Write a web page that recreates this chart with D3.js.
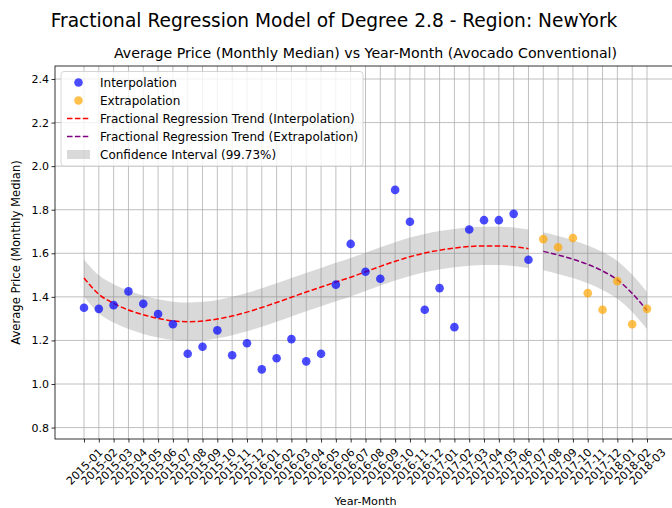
<!DOCTYPE html>
<html>
<head>
<meta charset="utf-8">
<script src="https://cdn.jsdelivr.net/npm/d3@7"></script>
<style>
  body { margin: 0; background: #fff; }
  svg { font-family: "DejaVu Sans", sans-serif; display: block; }
</style>
</head>
<body>
<svg id="chart" width="672" height="508"></svg>
<script>
const months = [
  "2015-01","2015-02","2015-03","2015-04","2015-05","2015-06","2015-07","2015-08","2015-09","2015-10","2015-11","2015-12",
  "2016-01","2016-02","2016-03","2016-04","2016-05","2016-06","2016-07","2016-08","2016-09","2016-10","2016-11","2016-12",
  "2017-01","2017-02","2017-03","2017-04","2017-05","2017-06","2017-07","2017-08","2017-09","2017-10","2017-11","2017-12",
  "2018-01","2018-02","2018-03"
];

// observed monthly medians (first 31 months = interpolation, last 8 = extrapolation)
const interpPrices = [1.350,1.345,1.362,1.425,1.368,1.321,1.274,1.139,1.171,1.246,1.132,1.187,
  1.067,1.118,1.206,1.104,1.139,1.456,1.643,1.515,1.483,1.891,1.745,1.341,
  1.440,1.261,1.709,1.752,1.752,1.781,1.570];
const extrapPrices = [1.665,1.628,1.670,1.417,1.341,1.472,1.274,1.345];

// fitted trend + confidence band
const trendInterp = [1.487,1.412,1.370,1.340,1.318,1.301,1.290,1.286,1.289,1.298,1.312,1.330,
  1.351,1.374,1.398,1.422,1.445,1.468,1.490,1.515,1.540,1.563,1.584,1.601,
  1.614,1.624,1.631,1.634,1.634,1.630,1.621];
const ciInterpHigh = [1.572,1.499,1.458,1.428,1.406,1.389,1.378,1.374,1.377,1.386,1.400,1.418,
  1.439,1.462,1.486,1.510,1.533,1.556,1.578,1.603,1.628,1.651,1.672,1.689,
  1.702,1.712,1.719,1.722,1.722,1.718,1.709];
const ciInterpLow = [1.402,1.325,1.282,1.252,1.230,1.213,1.202,1.198,1.201,1.210,1.224,1.242,
  1.263,1.286,1.310,1.334,1.357,1.380,1.402,1.427,1.452,1.475,1.496,1.513,
  1.526,1.536,1.543,1.546,1.546,1.542,1.533];
const trendExtrap = [1.609,1.592,1.573,1.549,1.519,1.478,1.416,1.338];
const ciExtrapHigh = [1.696,1.679,1.660,1.636,1.606,1.565,1.501,1.422];
const ciExtrapLow = [1.522,1.505,1.486,1.462,1.432,1.391,1.331,1.252];

const yTicks = [0.8, 1.0, 1.2, 1.4, 1.6, 1.8, 2.0, 2.2, 2.4];

const nInterp = interpPrices.length;
const interpRows = interpPrices.map((v, i) => ({ i, v, t: trendInterp[i], lo: ciInterpLow[i], hi: ciInterpHigh[i] }));
const extrapRows = extrapPrices.map((v, k) => ({ i: nInterp + k, v, t: trendExtrap[k], lo: ciExtrapLow[k], hi: ciExtrapHigh[k] }));

const svg = d3.select("#chart");
const plot = { left: 55, right: 676, top: 66, bottom: 439 };

const x = d3.scaleLinear().domain([0, months.length - 1]).range([84, 647]);
const y = d3.scaleLinear().domain([1.0, 2.4]).range([384, 79]);

// titles
svg.append("text").attr("x", 334).attr("y", 27).attr("text-anchor", "middle")
  .attr("font-size", 18.6).text("Fractional Regression Model of Degree 2.8 - Region: NewYork");
svg.append("text").attr("x", (plot.left + plot.right) / 2).attr("y", 58).attr("text-anchor", "middle")
  .attr("font-size", 14.2).text("Average Price (Monthly Median) vs Year-Month (Avocado Conventional)");

svg.append("defs").append("clipPath").attr("id", "clip")
  .append("rect").attr("x", plot.left).attr("y", plot.top)
  .attr("width", plot.right - plot.left).attr("height", plot.bottom - plot.top);

const g = svg.append("g").attr("clip-path", "url(#clip)");

// grid
const grid = g.append("g").attr("class", "grid");
months.forEach((m, i) => {
  grid.append("line").attr("x1", x(i)).attr("x2", x(i)).attr("y1", plot.top).attr("y2", plot.bottom)
    .attr("stroke", "#b0b0b0").attr("stroke-width", 0.8);
});
yTicks.forEach(v => {
  grid.append("line").attr("x1", plot.left).attr("x2", plot.right).attr("y1", y(v)).attr("y2", y(v))
    .attr("stroke", "#b0b0b0").attr("stroke-width", 0.8);
});

// confidence bands
const band = d3.area().x(d => x(d.i)).y0(d => y(d.lo)).y1(d => y(d.hi)).curve(d3.curveMonotoneX);
[interpRows, extrapRows].forEach(rows => {
  g.append("path").datum(rows).attr("d", band).attr("fill", "gray").attr("fill-opacity", 0.3);
});

// trend lines
const line = d3.line().x(d => x(d.i)).y(d => y(d.t)).curve(d3.curveMonotoneX);
g.append("path").datum(interpRows).attr("d", line).attr("fill", "none")
  .attr("stroke", "red").attr("stroke-width", 1.5).attr("stroke-dasharray", "5.5,2.4");
g.append("path").datum(extrapRows).attr("d", line).attr("fill", "none")
  .attr("stroke", "purple").attr("stroke-width", 1.5).attr("stroke-dasharray", "5.5,2.4");

// points
g.selectAll("circle.interp").data(interpRows).enter().append("circle").attr("class", "interp")
  .attr("cx", d => x(d.i)).attr("cy", d => y(d.v)).attr("r", 4.3)
  .attr("fill", "blue").attr("fill-opacity", 0.7);
g.selectAll("circle.extrap").data(extrapRows).enter().append("circle").attr("class", "extrap")
  .attr("cx", d => x(d.i)).attr("cy", d => y(d.v)).attr("r", 4.3)
  .attr("fill", "orange").attr("fill-opacity", 0.7);

// axes
const yAxis = svg.append("g").attr("transform", `translate(${plot.left},0)`)
  .call(d3.axisLeft(y).tickValues(yTicks).tickFormat(d3.format(".1f")).tickSize(3.5).tickSizeOuter(0));
const xAxis = svg.append("g").attr("transform", `translate(0,${plot.bottom})`)
  .call(d3.axisBottom(x).tickValues(d3.range(months.length)).tickFormat(i => months[i]).tickSize(3.5).tickSizeOuter(0));

[xAxis, yAxis].forEach(a => {
  a.select(".domain").remove();
  a.selectAll("text").attr("font-family", "DejaVu Sans").attr("font-size", 11).attr("fill", "#000");
  a.selectAll("line").attr("stroke", "#000").attr("stroke-width", 0.8);
});
yAxis.selectAll("text").attr("x", -6);
// rotated labels centred on the tick (bbox centre under tick)
xAxis.selectAll("text")
  .attr("text-anchor", "middle")
  .attr("y", 0).attr("dy", "0.35em")
  .attr("transform", "translate(0,27.5) rotate(-45)");

// spines
svg.append("rect").attr("x", plot.left).attr("y", plot.top)
  .attr("width", plot.right - plot.left).attr("height", plot.bottom - plot.top)
  .attr("fill", "none").attr("stroke", "#000").attr("stroke-width", 0.8);

// axis labels
svg.append("text").attr("x", (plot.left + plot.right) / 2).attr("y", 505).attr("text-anchor", "middle")
  .attr("font-size", 11.2).text("Year-Month");
svg.append("text").attr("transform", `translate(20,${(plot.top + plot.bottom) / 2}) rotate(-90)`)
  .attr("text-anchor", "middle").attr("font-size", 11.6).text("Average Price (Monthly Median)");

// legend
const legend = svg.append("g");
legend.append("rect").attr("x", 61).attr("y", 71.5).attr("width", 302).attr("height", 94.5).attr("rx", 3)
  .attr("fill", "#fff").attr("fill-opacity", 0.8).attr("stroke", "#cccccc").attr("stroke-width", 0.8);
const legendItems = [
  { label: "Interpolation", kind: "dot", color: "blue" },
  { label: "Extrapolation", kind: "dot", color: "orange" },
  { label: "Fractional Regression Trend (Interpolation)", kind: "line", color: "red" },
  { label: "Fractional Regression Trend (Extrapolation)", kind: "line", color: "purple" },
  { label: "Confidence Interval (99.73%)", kind: "patch", color: "gray" }
];
legendItems.forEach((d, k) => {
  const yy = 82.5 + k * 18;
  if (d.kind === "dot") {
    legend.append("circle").attr("cx", 78.5).attr("cy", yy).attr("r", 4.3)
      .attr("fill", d.color).attr("fill-opacity", 0.7);
  } else if (d.kind === "line") {
    legend.append("line").attr("x1", 67).attr("x2", 90).attr("y1", yy).attr("y2", yy)
      .attr("stroke", d.color).attr("stroke-width", 1.5).attr("stroke-dasharray", "5.5,2.4");
  } else {
    legend.append("rect").attr("x", 67).attr("y", yy - 4.5).attr("width", 23).attr("height", 9)
      .attr("fill", d.color).attr("fill-opacity", 0.3);
  }
  legend.append("text").attr("x", 100).attr("y", yy + 4.2).attr("font-size", 12).text(d.label);
});
</script>
</body>
</html>
